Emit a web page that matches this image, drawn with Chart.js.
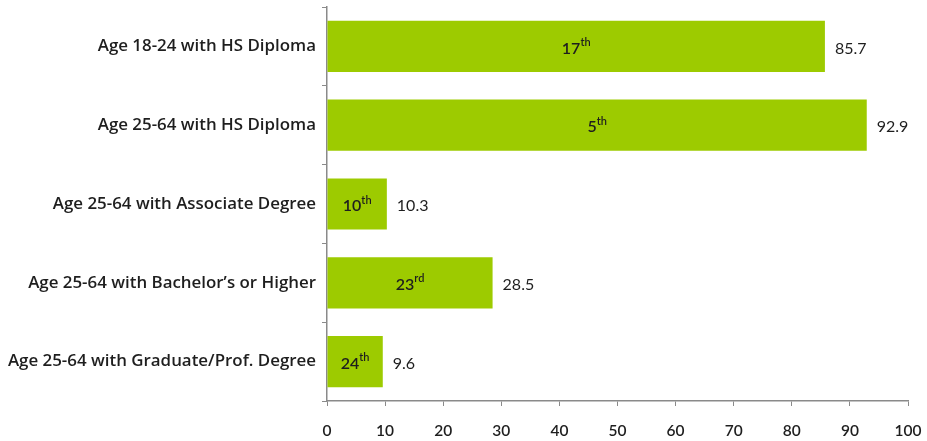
<!DOCTYPE html>
<html>
<head>
<meta charset="utf-8">
<script src="https://cdn.jsdelivr.net/npm/chart.js@4/dist/chart.umd.min.js"></script>
<style>
  html, body { margin: 0; padding: 0; background: #fff; }
  #wrap { width: 927px; height: 441px; position: relative; }
</style>
</head>
<body>
<div id="wrap"><canvas id="c"></canvas></div>
<script>
// Educational attainment shares (percent) with the state's national rank
const categories = [
  'Age 18-24 with HS Diploma',
  'Age 25-64 with HS Diploma',
  'Age 25-64 with Associate Degree',
  "Age 25-64 with Bachelor\u2019s or Higher",
  'Age 25-64 with Graduate/Prof. Degree'
];
const values = [85.7, 92.9, 10.3, 28.5, 9.6];
const ranks = ['17', '5', '10', '23', '24'];
const rankSuffixes = ['th', 'th', 'th', 'rd', 'th'];
const xTicks = [0, 10, 20, 30, 40, 50, 60, 70, 80, 90, 100];

const textColor = '#1e1e1e';
const axisColor = '#8a8a8a';
const barColor = '#9dcb00';

// Draws the rank (with ordinal superscript) inside each bar and the value after it
const barLabels = {
  id: 'barLabels',
  afterDatasetsDraw(chart) {
    const ctx = chart.ctx;
    const meta = chart.getDatasetMeta(0);
    ctx.save();
    meta.data.forEach((bar, i) => {
      const y = bar.y;
      const baseFont = '600 16px Lato, "Open Sans", sans-serif';
      const supFont = '600 11px Lato, "Open Sans", sans-serif';
      ctx.font = baseFont;
      const wBase = ctx.measureText(ranks[i]).width;
      ctx.font = supFont;
      const wSup = ctx.measureText(rankSuffixes[i]).width;
      const total = wBase + wSup;
      const left = bar.base + (bar.x - bar.base) / 2 - total / 2;
      ctx.fillStyle = textColor;
      ctx.textBaseline = 'middle';
      ctx.textAlign = 'left';
      ctx.font = baseFont;
      ctx.fillText(ranks[i], left, y + 2);
      ctx.font = supFont;
      ctx.fillText(rankSuffixes[i], left + wBase, y - 4);
      // value label to the right of the bar
      ctx.font = '16px Lato, "Open Sans", sans-serif';
      ctx.fillText(values[i].toFixed(1), bar.x + 10, y + 2);
    });
    ctx.restore();
  }
};

new Chart(document.getElementById('c'), {
  type: 'bar',
  data: {
    labels: categories,
    datasets: [{
      data: values,
      backgroundColor: barColor,
      borderWidth: 0,
      categoryPercentage: 1.0,
      barPercentage: 0.65
    }]
  },
  options: {
    indexAxis: 'y',
    responsive: true,
    maintainAspectRatio: false,
    animation: false,
    layout: { padding: { top: 7, right: 19, bottom: 0, left: 0 } },
    plugins: {
      legend: { display: false },
      tooltip: { enabled: false }
    },
    scales: {
      x: {
        min: 0,
        max: 100,
        afterBuildTicks(scale) { scale.ticks = xTicks.map(v => ({ value: v })); },
        afterFit(scale) {
          scale.height = 40;
          scale.paddingLeft = 0;
          scale.paddingRight = 0;
        },
        border: { display: true, color: axisColor, width: 1.5 },
        grid: { display: true, drawOnChartArea: false, drawTicks: true, tickLength: 5, color: axisColor, lineWidth: 1 },
        ticks: {
          color: textColor,
          padding: 16,
          font: { family: 'Lato, "Open Sans", sans-serif', size: 15.5, weight: '600' }
        }
      },
      y: {
        offset: true,
        afterFit(scale) {
          scale.width = 327;
          scale.paddingTop = 0;
          scale.paddingBottom = 0;
        },
        border: { display: true, color: axisColor, width: 1.5 },
        grid: { display: true, offset: true, drawOnChartArea: false, drawTicks: true, tickLength: 5, color: axisColor, lineWidth: 1 },
        ticks: {
          color: textColor,
          padding: 6,
          font: { family: '"Open Sans", sans-serif', size: 16.9, weight: '600' }
        }
      }
    }
  },
  plugins: [barLabels]
});
</script>
</body>
</html>
